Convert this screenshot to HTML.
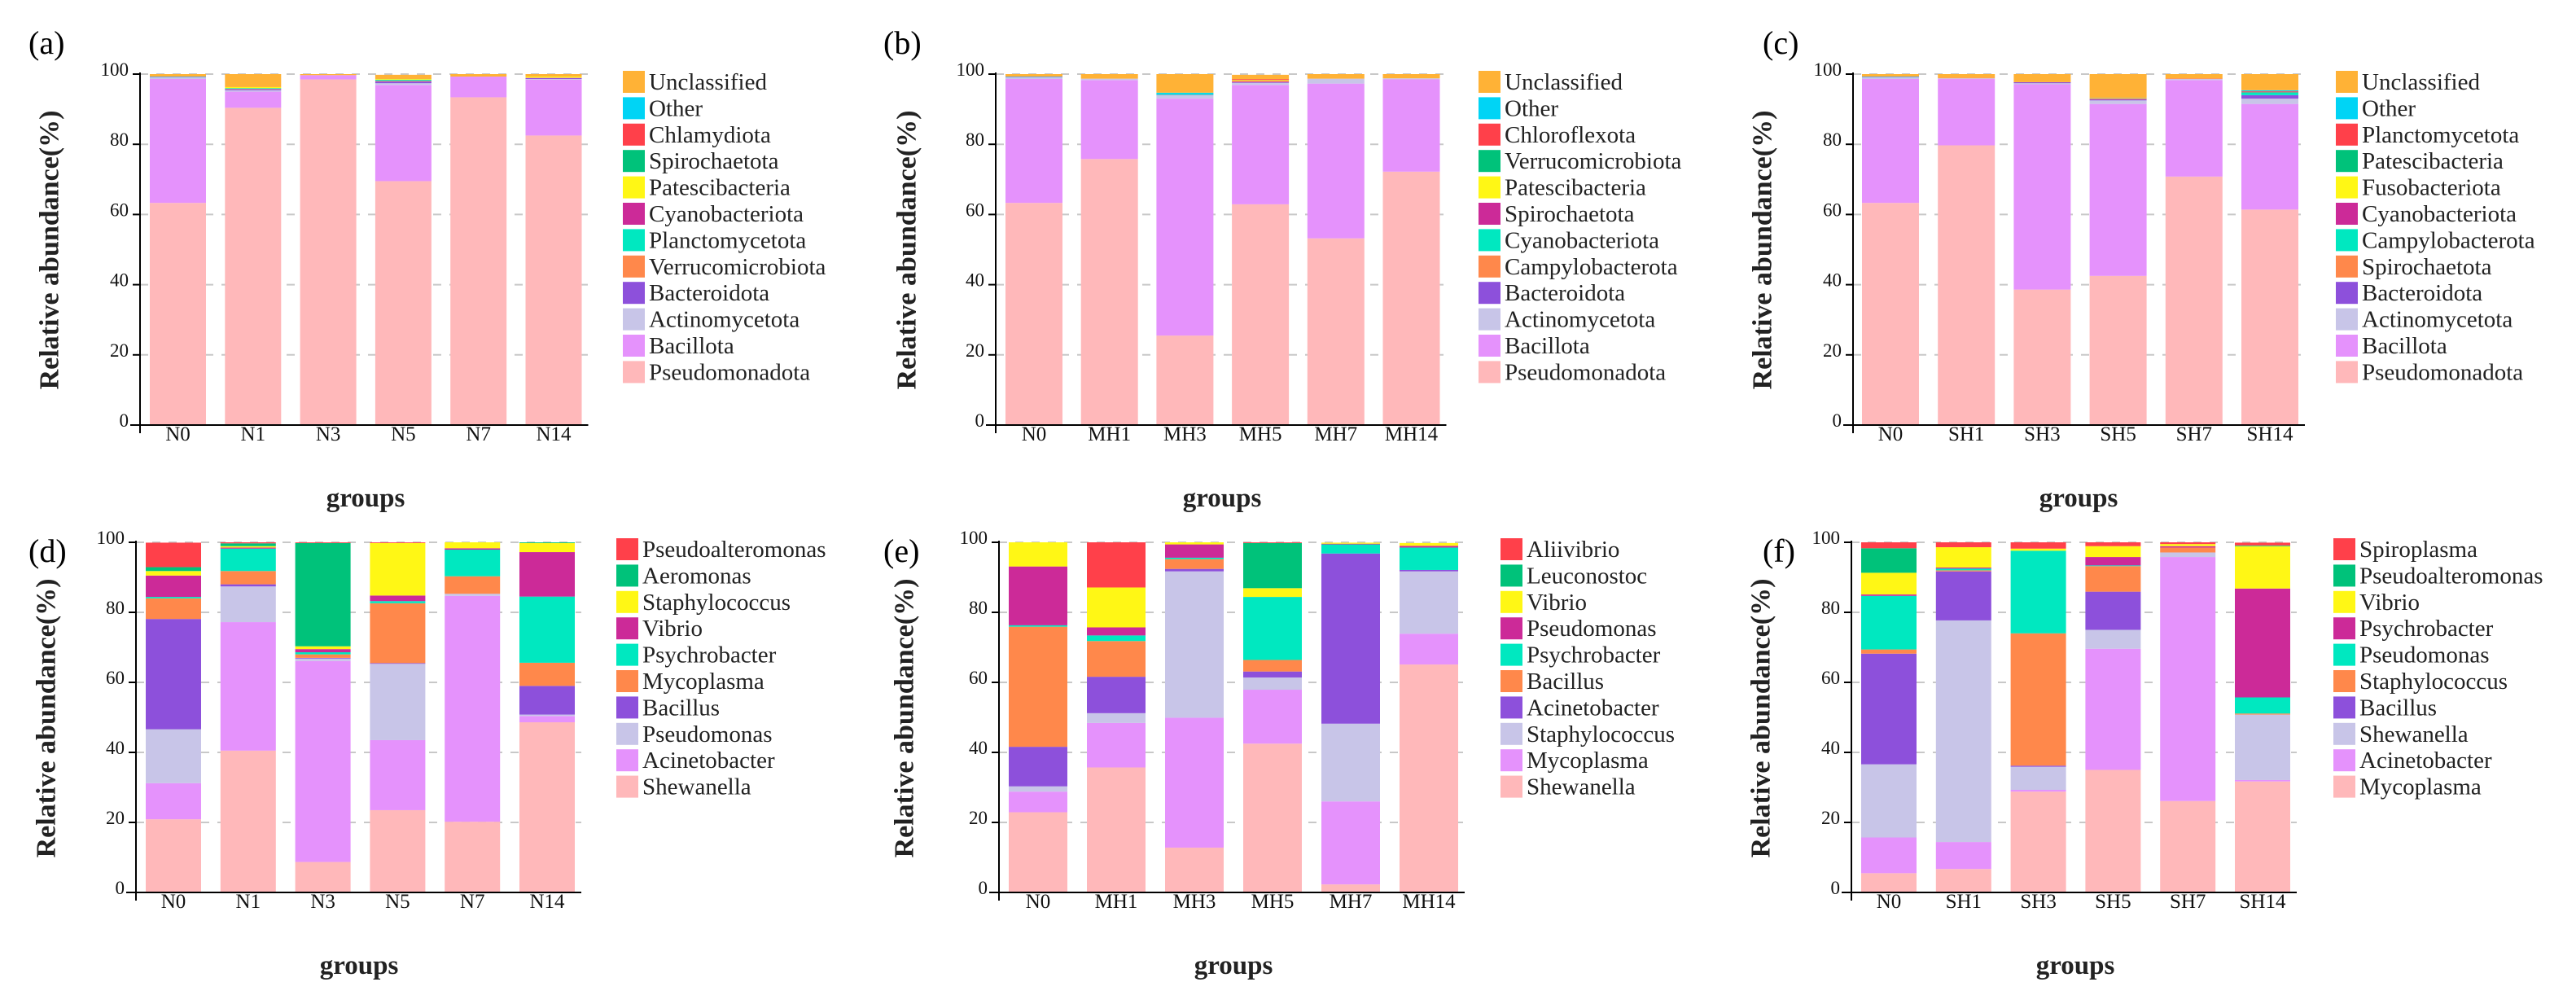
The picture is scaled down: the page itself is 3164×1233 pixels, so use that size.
<!DOCTYPE html>
<html><head><meta charset="utf-8"><style>
html,body{margin:0;padding:0;background:#fff;}
svg{display:block;}
svg text{font-family:"Liberation Serif","Times New Roman",serif;}
</style></head><body>
<svg id="fig" width="3164" height="1233" viewBox="0 0 3164 1233" xmlns="http://www.w3.org/2000/svg"></svg>
<script>
// ---------- DATA ----------
const colPink="#FFB8BA",colViolet="#E592FC",colLav="#C8C5E8",colPurple="#8D50DB",colOrange="#FF884B",colTeal="#00E8C0",colMag="#CC2A98",colYellow="#FFF715",colGreen="#00C27A",colRed="#FF404A",colCyan="#00D4F5",colUnc="#FFB236";

const aCats=["N0","N1","N3","N5","N7","N14"];
const aNames=["Pseudomonadota","Bacillota","Actinomycetota","Bacteroidota","Verrucomicrobiota","Planctomycetota","Cyanobacteriota","Patescibacteria","Spirochaetota","Chlamydiota","Other","Unclassified"];
const aColors=[colPink,colViolet,colLav,colPurple,colOrange,colTeal,colMag,colYellow,colGreen,colRed,colCyan,colUnc];
const aValues=[
 [63.3,90.4,98.5,69.5,93.4,82.5],
 [35.3,4.6,1.2,27.4,5.9,15.9],
 [0.5,0.4,0,0.5,0,0.2],
 [0.1,0.3,0,0.5,0,0.3],
 [0,0.1,0,0.2,0,0.1],
 [0,0.2,0,0.3,0,0],
 [0,0,0,0,0,0],
 [0,0.3,0,0.2,0,0.3],
 [0,0,0,0,0,0],
 [0,0,0,0,0,0],
 [0.1,0,0,0,0,0],
 [0.7,3.7,0.3,1.2,0.7,0.7]];

const bCats=["N0","MH1","MH3","MH5","MH7","MH14"];
const bNames=["Pseudomonadota","Bacillota","Actinomycetota","Bacteroidota","Campylobacterota","Cyanobacteriota","Spirochaetota","Patescibacteria","Verrucomicrobiota","Chloroflexota","Other","Unclassified"];
const bColors=[colPink,colViolet,colLav,colPurple,colOrange,colTeal,colMag,colYellow,colGreen,colRed,colCyan,colUnc];
const bValues=[
 [63.3,75.8,25.5,62.9,53.2,72.2],
 [35.3,22.5,67.5,34.0,44.1,26.3],
 [0.5,0.4,1.0,0.6,1.4,0.3],
 [0.1,0,0.1,0.2,0,0],
 [0,0,0,0.2,0,0],
 [0,0,0.3,0,0,0],
 [0,0,0,0.2,0,0],
 [0,0,0,0.3,0,0],
 [0,0,0,0,0,0],
 [0,0,0,0.2,0,0],
 [0.1,0,0.3,0,0,0],
 [0.7,1.3,5.3,1.2,1.3,1.2]];

const cCats=["N0","SH1","SH3","SH5","SH7","SH14"];
const cNames=["Pseudomonadota","Bacillota","Actinomycetota","Bacteroidota","Spirochaetota","Campylobacterota","Cyanobacteriota","Fusobacteriota","Patescibacteria","Planctomycetota","Other","Unclassified"];
const cColors=[colPink,colViolet,colLav,colPurple,colOrange,colTeal,colMag,colYellow,colGreen,colRed,colCyan,colUnc];
const cValues=[
 [63.3,79.7,38.6,42.5,70.8,61.4],
 [35.3,18.9,58.5,49.0,27.5,30.1],
 [0.5,0.2,0.3,1.0,0.3,1.5],
 [0.1,0,0.3,0.3,0,1.0],
 [0,0.2,0,0.3,0.2,0],
 [0,0,0,0.1,0,0.8],
 [0,0,0,0,0,0],
 [0,0,0,0,0,0],
 [0,0,0,0,0,0],
 [0,0,0,0,0,0.3],
 [0.1,0,0,0,0,0.3],
 [0.7,1.0,2.3,6.8,1.2,4.6]];

const dCats=["N0","N1","N3","N5","N7","N14"];
const dNames=["Shewanella","Acinetobacter","Pseudomonas","Bacillus","Mycoplasma","Psychrobacter","Vibrio","Staphylococcus","Aeromonas","Pseudoalteromonas"];
const dColors=[colPink,colViolet,colLav,colPurple,colOrange,colTeal,colMag,colYellow,colGreen,colRed];
const dValues=[
 [20.9,40.5,8.7,23.5,20.2,48.6],
 [10.3,36.7,57.4,20.0,64.5,1.8],
 [15.4,10.2,0.7,21.8,0.6,0.4],
 [31.5,0.6,0.2,0.2,0,8.2],
 [5.9,3.8,1.0,17.1,5.0,6.6],
 [0.4,6.4,0.6,0.6,7.6,18.9],
 [6.1,0.3,0.9,1.6,0.4,12.7],
 [1.3,0.4,0.8,15.0,1.7,2.6],
 [1.1,0.8,29.5,0,0,0.2],
 [7.0,0.3,0.2,0.2,0,0]];

const eCats=["N0","MH1","MH3","MH5","MH7","MH14"];
const eNames=["Shewanella","Mycoplasma","Staphylococcus","Acinetobacter","Bacillus","Psychrobacter","Pseudomonas","Vibrio","Leuconostoc","Aliivibrio"];
const eColors=[colPink,colViolet,colLav,colPurple,colOrange,colTeal,colMag,colYellow,colGreen,colRed];
const eValues=[
 [22.9,35.7,12.8,42.5,2.3,65.1],
 [5.9,12.7,37.1,15.4,23.7,8.8],
 [1.5,2.8,41.8,3.5,22.2,17.8],
 [11.3,10.4,0.7,1.7,48.6,0.4],
 [34.3,10.2,2.8,3.3,0,0],
 [0.4,1.6,0.4,18.0,2.6,6.4],
 [16.8,2.3,3.8,0,0.2,0.5],
 [6.9,11.4,0.6,2.5,0.3,0.8],
 [0,0,0,12.9,0,0],
 [0,12.9,0,0.2,0,0]];

const fCats=["N0","SH1","SH3","SH5","SH7","SH14"];
const fNames=["Mycoplasma","Acinetobacter","Shewanella","Bacillus","Staphylococcus","Pseudomonas","Psychrobacter","Vibrio","Pseudoalteromonas","Spiroplasma"];
const fColors=[colPink,colViolet,colLav,colPurple,colOrange,colTeal,colMag,colYellow,colGreen,colRed];
const fValues=[
 [5.5,6.7,28.8,35.0,26.1,31.7],
 [10.2,7.7,0.5,34.6,69.7,0.4],
 [20.9,63.3,6.6,5.4,1.3,18.7],
 [31.6,14.0,0.3,10.9,0,0],
 [1.2,0.3,37.8,7.3,1.4,0.3],
 [15.3,0.5,23.6,0.2,0,4.6],
 [0.4,0.3,0,2.4,0.4,31.1],
 [6.2,5.8,0.6,3.1,0.6,12.1],
 [7.0,0,0,0,0,0.2],
 [1.7,1.4,1.8,1.1,0.5,0.8]];

// ---------- LAYOUT (geometry only) ----------
const panels=[
 {id:"a",cats:aCats,names:aNames,colors:aColors,values:aValues,ax:172,y100:91,y0:522,bx:184,pitch:92.3,bw:69,lx:765,ly:87,tx:61,ty:307,px:35,py:66,gx:449,gy:622},
 {id:"b",cats:bCats,names:bNames,colors:bColors,values:bValues,ax:1223,y100:91,y0:522,bx:1235,pitch:92.7,bw:70,lx:1816,ly:87,tx:1114,ty:307,px:1085,py:66,gx:1501,gy:622},
 {id:"c",cats:cCats,names:cNames,colors:cColors,values:cValues,ax:2276,y100:91,y0:522,bx:2287,pitch:93.2,bw:70,lx:2869,ly:87,tx:2165,ty:307,px:2165,py:66,gx:2553,gy:622},
 {id:"d",cats:dCats,names:dNames,colors:dColors,values:dValues,ax:167,y100:666,y0:1096,bx:179,pitch:91.8,bw:68,lx:757,ly:661,tx:57,ty:882,px:35,py:690,gx:441,gy:1196},
 {id:"e",cats:eCats,names:eNames,colors:eColors,values:eValues,ax:1227,y100:666,y0:1096,bx:1239,pitch:96,bw:72,lx:1843,ly:661,tx:1111,ty:882,px:1085,py:690,gx:1515,gy:1196},
 {id:"f",cats:fCats,names:fNames,colors:fColors,values:fValues,ax:2274,y100:666,y0:1096,bx:2286,pitch:91.8,bw:68,lx:2866,ly:661,tx:2163,ty:882,px:2165,py:690,gx:2549,gy:1196}
];
const ticks=[0,20,40,60,80,100];
const FONT='"Liberation Serif","Times New Roman",serif';

const NS="http://www.w3.org/2000/svg";
const svg=document.getElementById("fig");
function mk(tag,attrs,parent){const e=document.createElementNS(NS,tag);for(const k in attrs)e.setAttribute(k,attrs[k]);if(tag==="text")e.setAttribute("font-family",FONT);(parent||svg).appendChild(e);return e;}

panels.forEach(p=>{
  const g=mk("g",{});
  
  
  const yS=v=>p.y0-(p.y0-p.y100)*v/100;
  const xS=i=>p.bx+i*p.pitch;
  const xEnd=xS(p.cats.length-1)+p.bw+8;
  ticks.forEach(t=>{
    if(t===0)return;
    const l=mk("line",{x1:p.ax,x2:xEnd,y1:yS(t),y2:yS(t),stroke:"#c8c8c8","stroke-width":2,"stroke-dasharray":"10 10"},g);
    
    
  });
  p.cats.forEach((c,i)=>{
    let cum=0;
    p.values.forEach((row,s)=>{
      const v=row[i];
      if(v<=0){return;}
      const y1=yS(cum+v),y2=yS(cum);
      const r=mk("rect",{x:xS(i),y:y1,width:p.bw,height:Math.max(0,y2-y1),fill:p.colors[s]},g);
      
      
      cum+=v;
    });
    const tl=mk("text",{x:xS(i)+p.bw/2,y:p.y0+19,"text-anchor":"middle","font-size":25,fill:"#111"},g);
    tl.textContent=c;
    
    
  });
  const ya=mk("line",{x1:p.ax,x2:p.ax,y1:p.y100-2,y2:p.y0+10,stroke:"#000","stroke-width":2},g);
  
  
  const xa=mk("line",{x1:p.ax-12,x2:xEnd,y1:p.y0,y2:p.y0,stroke:"#000","stroke-width":2},g);
  
  
  ticks.forEach(t=>{
    mk("line",{x1:p.ax-9,x2:p.ax,y1:yS(t),y2:yS(t),stroke:"#000","stroke-width":2},g);
    const tt=mk("text",{x:p.ax-14,y:yS(t)+2,"text-anchor":"end","font-size":23,fill:"#111"},g);
    tt.textContent=t;
    
    
  });
  const yt=mk("text",{x:p.tx,y:p.ty,"text-anchor":"middle","font-size":34,"font-weight":"bold",fill:"#222",transform:"rotate(-90 "+p.tx+" "+p.ty+")","dominant-baseline":"central"},g);
  yt.textContent="Relative abundance(%)";
  
  
  const xt=mk("text",{x:p.gx,y:p.gy,"text-anchor":"middle","font-size":33,"font-weight":"bold",fill:"#222"},g);
  xt.textContent="groups";
  
  
  const pl=mk("text",{x:p.px,y:p.py,"font-size":40,fill:"#000"},g);
  pl.textContent="("+p.id+")";
  
  
  const n=p.names.length;
  for(let k=0;k<n;k++){
    const s=n-1-k;
    const y=p.ly+k*32.4;
    const sw=mk("rect",{x:p.lx,y:y,width:27,height:27,fill:p.colors[s]},g);
    
    
    const lt=mk("text",{x:p.lx+32,y:y+23,"font-size":29,fill:"#222"},g);
    lt.textContent=p.names[s];
    
    
  }
});
</script>
</body></html>
